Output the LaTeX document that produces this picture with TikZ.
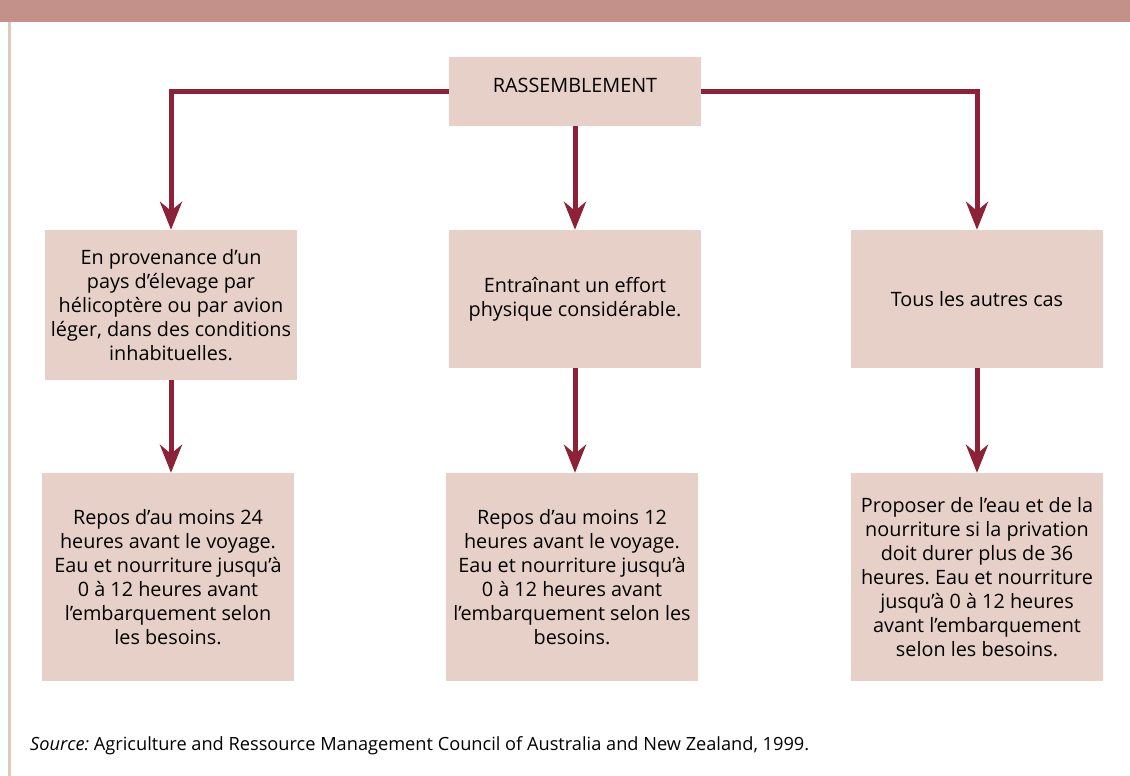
\documentclass[tikz,border=0pt]{standalone}
\usepackage{fontspec}
\setmainfont{Open Sans}
\usetikzlibrary{arrows.meta}
\definecolor{boxfill}{HTML}{E7D0C7}
\definecolor{conncol}{HTML}{8C2137}
\definecolor{barcol}{HTML}{C4908A}
\definecolor{bordercol}{HTML}{E2C6C0}
\begin{document}
\frenchspacing
\begin{tikzpicture}[x=1pt,y=-1pt,
  box/.style={fill=boxfill, draw=none, minimum width=252pt, align=center, inner sep=0pt,
    font=\fontsize{19.8}{24}\selectfont},
  conn/.style={draw=conncol, line width=5pt,
    -{Stealth[length=28pt,width=22pt,inset=9pt]}}]
\useasboundingbox (0,0) rectangle (1130,776);
\fill[white] (0,0) rectangle (1130,776);
% top bar and left border
\fill[barcol] (0,0) rectangle (1130,22);
\fill[bordercol] (8,22) rectangle (11,776);
% nodes
\node[box, minimum height=69pt] (top) at (575,91.5) {};
\node[font=\fontsize{19.8}{24}\selectfont, inner sep=0pt] (toptext) at (575,85) {RASSEMBLEMENT};
\node[box, minimum height=150pt] (l2) at (171,305) {En provenance d’un\\pays d’élevage par\\hélicoptère ou par avion\\léger, dans des conditions\\inhabituelles.};
\node[box, minimum height=138pt] (m2) at (575,299) {Entraînant un effort\\physique considérable.};
\node[box, minimum height=138pt] (r2) at (977,299) {Tous les autres cas};
\node[box, minimum height=208pt] (l3) at (168,577) {Repos d’au moins 24\\heures avant le voyage.\\Eau et nourriture jusqu’à\\0 à 12 heures avant\\l’embarquement selon\\les besoins.};
\node[box, minimum height=208pt] (m3) at (572,577) {Repos d’au moins 12\\heures avant le voyage.\\Eau et nourriture jusqu’à\\0 à 12 heures avant\\l’embarquement selon les\\besoins.};
\node[box, minimum height=208pt] (r3) at (977,577) {Proposer de l’eau et de la\\nourriture si la privation\\doit durer plus de 36\\heures. Eau et nourriture\\jusqu’à 0 à 12 heures\\avant l’embarquement\\selon les besoins.};
% connectors
\draw[conn] (top.west) -| (l2.north);
\draw[conn] (top.east) -| (r2.north);
\draw[conn] (top.south) -- (m2.north);
\draw[conn] (l2.south) -- (l2.south |- l3.north);
\draw[conn] (m2.south) -- (m2.south |- m3.north);
\draw[conn] (r2.south) -- (r3.north);
% source
\node[anchor=base west, inner sep=0pt, font=\fontsize{18.2}{21}\selectfont] (src) at (30,750) {\textit{Source:} Agriculture and Ressource Management Council of Australia and New Zealand, 1999.};
\end{tikzpicture}
\end{document}
